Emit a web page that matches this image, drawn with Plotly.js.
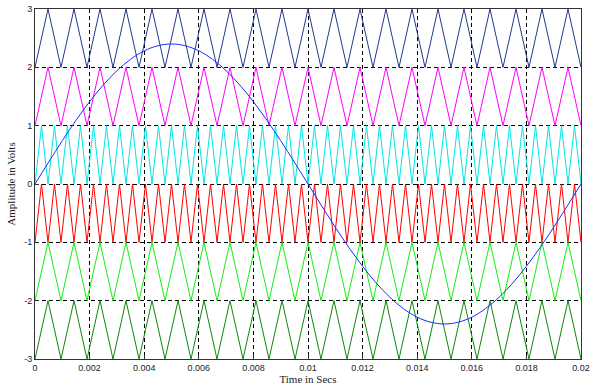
<!DOCTYPE html>
<html>
<head>
<meta charset="utf-8">
<script src="https://cdn.plot.ly/plotly-3.0.1.min.js"></script>
<style>html,body{margin:0;padding:0;background:#fff;}#chart{width:590px;height:391px;}</style>
</head>
<body>
<div id="chart"></div>
<script>
// Vertex times of the outer carriers (21 cycles over 0.02 s), starting at a valley
const outerTimes = [0, 0.000476, 0.000952, 0.001429, 0.001905, 0.002381, 0.002857, 0.003333, 0.003810, 0.004286,
  0.004762, 0.005238, 0.005714, 0.006190, 0.006667, 0.007143, 0.007619, 0.008095, 0.008571, 0.009048,
  0.009524, 0.010000, 0.010476, 0.010952, 0.011429, 0.011905, 0.012381, 0.012857, 0.013333, 0.013810,
  0.014286, 0.014762, 0.015238, 0.015714, 0.016190, 0.016667, 0.017143, 0.017619, 0.018095, 0.018571,
  0.019048, 0.019524, 0.020000];
// Vertex times of the inner carriers (42 cycles over 0.02 s), starting at a valley
const innerTimes = [0, 0.000238, 0.000476, 0.000714, 0.000952, 0.001190, 0.001429, 0.001667, 0.001905, 0.002143,
  0.002381, 0.002619, 0.002857, 0.003095, 0.003333, 0.003571, 0.003810, 0.004048, 0.004286, 0.004524,
  0.004762, 0.005000, 0.005238, 0.005476, 0.005714, 0.005952, 0.006190, 0.006429, 0.006667, 0.006905,
  0.007143, 0.007381, 0.007619, 0.007857, 0.008095, 0.008333, 0.008571, 0.008810, 0.009048, 0.009286,
  0.009524, 0.009762, 0.010000, 0.010238, 0.010476, 0.010714, 0.010952, 0.011190, 0.011429, 0.011667,
  0.011905, 0.012143, 0.012381, 0.012619, 0.012857, 0.013095, 0.013333, 0.013571, 0.013810, 0.014048,
  0.014286, 0.014524, 0.014762, 0.015000, 0.015238, 0.015476, 0.015714, 0.015952, 0.016190, 0.016429,
  0.016667, 0.016905, 0.017143, 0.017381, 0.017619, 0.017857, 0.018095, 0.018333, 0.018571, 0.018810,
  0.019048, 0.019286, 0.019524, 0.019762, 0.020000];

// Carrier bands: [low, high]
const bandLow  = [2, 1, 0, -1, -2, -3];
const bandHigh = [3, 2, 1, 0, -1, -2];
const bandInner = [false, false, true, true, false, false];
const bandColors = ['#203a8f', '#ff00ff', '#00e5e5', '#ff0000', '#11ee11', '#0a8a0a'];

// Reference (modulating) sine, every 0.0005 s
const sineTimes = [0, 0.0005, 0.001, 0.0015, 0.002, 0.0025, 0.003, 0.0035, 0.004, 0.0045,
  0.005, 0.0055, 0.006, 0.0065, 0.007, 0.0075, 0.008, 0.0085, 0.009, 0.0095,
  0.010, 0.0105, 0.011, 0.0115, 0.012, 0.0125, 0.013, 0.0135, 0.014, 0.0145,
  0.015, 0.0155, 0.016, 0.0165, 0.017, 0.0175, 0.018, 0.0185, 0.019, 0.0195, 0.020];
const sineValues = [0, 0.375, 0.742, 1.090, 1.411, 1.697, 1.942, 2.138, 2.283, 2.370,
  2.4, 2.370, 2.283, 2.138, 1.942, 1.697, 1.411, 1.090, 0.742, 0.375,
  0, -0.375, -0.742, -1.090, -1.411, -1.697, -1.942, -2.138, -2.283, -2.370,
  -2.4, -2.370, -2.283, -2.138, -1.942, -1.697, -1.411, -1.090, -0.742, -0.375, 0];

const xTickVals = [0, 0.002, 0.004, 0.006, 0.008, 0.01, 0.012, 0.014, 0.016, 0.018, 0.02];
const xTickText = ['0', '0.002', '0.004', '0.006', '0.008', '0.01', '0.012', '0.014', '0.016', '0.018', '0.02'];
const yTickVals = [-3, -2, -1, 0, 1, 2, 3];
const yTickText = ['-3', '-2', '-1', '0', '1', '2', '3'];

const traces = [];
for (let b = 0; b < bandLow.length; b++) {
  const t = bandInner[b] ? innerTimes : outerTimes;
  const y = t.map((_, i) => (i % 2 === 0 ? bandLow[b] : bandHigh[b]));
  traces.push({x: t, y: y, type: 'scatter', mode: 'lines',
    line: {color: bandColors[b], width: 1}, hoverinfo: 'skip'});
}
traces.push({x: sineTimes, y: sineValues, type: 'scatter', mode: 'lines',
  line: {color: '#1a2cff', width: 1, shape: 'spline'}, hoverinfo: 'skip'});

const axisFont = {family: 'Liberation Sans, Arial, sans-serif', size: 9, color: '#222'};
const layout = {
  width: 590, height: 391,
  margin: {l: 35, r: 9, t: 9, b: 32},
  paper_bgcolor: '#fff', plot_bgcolor: '#fff',
  showlegend: false,
  xaxis: {
    range: [0, 0.02], tickvals: xTickVals, ticktext: xTickText,
    showgrid: true, gridcolor: '#000', gridwidth: 1, griddash: '4px,3px',
    showline: true, linecolor: '#333', linewidth: 1, mirror: true,
    ticks: 'inside', ticklen: 4, tickcolor: '#333',
    zeroline: false, tickfont: axisFont,
    title: {text: 'Time in Secs', font: {family: 'Liberation Serif, Times New Roman, serif', size: 11, color: '#222'}, standoff: 2}
  },
  yaxis: {
    range: [-3, 3], tickvals: yTickVals, ticktext: yTickText,
    showgrid: true, gridcolor: '#000', gridwidth: 1, griddash: '4px,3px',
    showline: true, linecolor: '#333', linewidth: 1, mirror: true,
    ticks: 'inside', ticklen: 4, tickcolor: '#333',
    zeroline: false, tickfont: axisFont,
    title: {text: 'Amplitude in Volts', font: {family: 'Liberation Serif, Times New Roman, serif', size: 11, color: '#222'}, standoff: 6}
  }
};
Plotly.newPlot('chart', traces, layout, {displayModeBar: false, staticPlot: true});
</script>
</body>
</html>
